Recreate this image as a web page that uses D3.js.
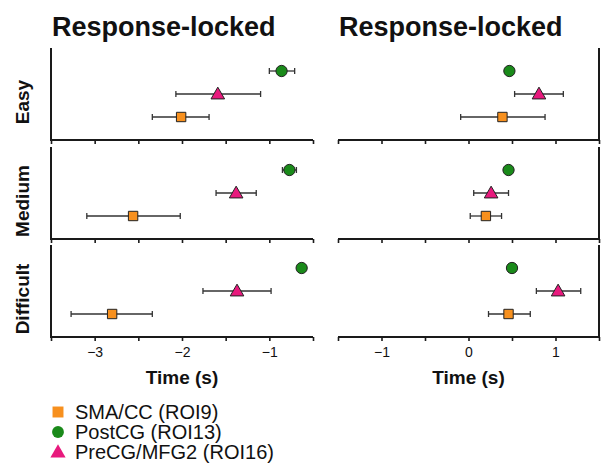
<!DOCTYPE html>
<html>
<head>
<meta charset="utf-8">
<script src="https://cdn.jsdelivr.net/npm/d3@7"></script>
<style>
  body { margin: 0; background: #fff; }
  text { font-family: "Liberation Sans", Arial, sans-serif; }
</style>
</head>
<body>
<div id="chart"></div>
<script>
// conditions (rows) and ROIs (marker series)
const conditions = ['Easy', 'Medium', 'Difficult']
const rois = ['SMA/CC (ROI9)', 'PostCG (ROI13)', 'PreCG/MFG2 (ROI16)']
const roiShape = ['square', 'circle', 'triangle']
const roiColor = ['#f7901e', '#1a8a1a', '#e8197d']
const roiRow = [3, 1, 2] // vertical slot inside each condition panel

// left panel: [mean, lo, hi] per condition, per roi
const leftVals = [
    [[-2.01, -2.34, -1.69], [-0.86, -1.0, -0.71], [-1.59, -2.07, -1.1]],
    [[-2.56, -3.09, -2.02], [-0.77, -0.85, -0.69], [-1.38, -1.61, -1.15]],
    [[-2.8, -3.27, -2.34], [-0.63, -0.63, -0.63], [-1.37, -1.76, -0.98]]
]
// right panel
const rightVals = [
    [[0.39, -0.09, 0.88], [0.47, 0.47, 0.47], [0.81, 0.53, 1.09]],
    [[0.2, 0.02, 0.38], [0.46, 0.46, 0.46], [0.26, 0.06, 0.46]],
    [[0.46, 0.23, 0.71], [0.5, 0.5, 0.5], [1.03, 0.78, 1.29]]
]
const leftTicks = [-3, -2, -1]
const rightTicks = [-1, 0, 1]

const W = 601, H = 472
const svg = d3.select('#chart').append('svg')
    .attr('width', W)
    .attr('height', H)

const rowTops = [48, 147, 245], rowH = 92
const dark = '#1a1a1a'

const panels = [
    { x0: 51, x1: 313, domain: [-3.5, -0.5], vals: leftVals, ticks: leftTicks, side: 'left' },
    { x0: 338, x1: 599, domain: [-1.5, 1.5], vals: rightVals, ticks: rightTicks, side: 'right' }
]

const y = d3.scaleLinear().domain([0, 4]).range([0, rowH])

const shapeFn = {
    square: d3.symbol(d3.symbolSquare, 88),
    circle: d3.symbol(d3.symbolCircle, 100),
    triangle: d3.symbol(d3.symbolTriangle, 80)
}

panels.forEach(p => {
    const x = d3.scaleLinear().domain(p.domain).range([p.x0, p.x1])

    svg.append('text')
        .attr('x', p.x0 + 1)
        .attr('y', 36)
        .attr('font-size', 27)
        .attr('font-weight', 'bold')
        .attr('fill', '#111')
        .text('Response-locked')

    conditions.forEach((c, ci) => {
        const g = svg.append('g').attr('transform', `translate(0,${rowTops[ci]})`)

        const allTicks = d3.range(p.domain[0], p.domain[1] + 0.01, 0.5)
        const axis = d3.axisBottom(x).tickValues(allTicks).tickSize(4)
            .tickFormat(d => (ci === 2 && p.ticks.includes(d)) ? d3.format('d')(d) : '')
        const ax = g.append('g').attr('transform', `translate(0,${rowH})`).call(axis)
        ax.select('.domain').attr('stroke', dark).attr('stroke-width', 2).attr('d', `M${p.x0},0H${p.x1}`)
        ax.selectAll('.tick line').attr('stroke', dark).attr('stroke-width', 1.6)
        ax.selectAll('.tick text').attr('font-size', 14).attr('fill', '#111').attr('dy', '0.9em')
            .attr('font-family', '"Liberation Sans", Arial, sans-serif')

        // vertical axis line
        const vx = p.side === 'left' ? p.x0 : p.x1
        g.append('line')
            .attr('x1', vx).attr('x2', vx)
            .attr('y1', 0).attr('y2', rowH + 1)
            .attr('stroke', dark).attr('stroke-width', 2)

        if (p.side === 'left') {
            g.append('text')
                .attr('transform', `translate(29,${rowH / 2 + 8}) rotate(-90)`)
                .attr('text-anchor', 'middle')
                .attr('font-size', 19)
                .attr('font-weight', 'bold')
                .attr('fill', '#111')
                .text(c)
        }

        p.vals[ci].forEach((v, ri) => {
            const yy = y(roiRow[ri])
            if (v[2] - v[1] > 0.02) {
                g.append('line')
                    .attr('x1', x(v[1])).attr('x2', x(v[2]))
                    .attr('y1', yy).attr('y2', yy)
                    .attr('stroke', '#333').attr('stroke-width', 1.3)
                ;[v[1], v[2]].forEach(e => {
                    g.append('line')
                        .attr('x1', x(e)).attr('x2', x(e))
                        .attr('y1', yy - 3).attr('y2', yy + 3)
                        .attr('stroke', '#333').attr('stroke-width', 1.3)
                })
            }
            g.append('path')
                .attr('d', shapeFn[roiShape[ri]]())
                .attr('transform', `translate(${x(v[0])},${yy + (roiShape[ri] === 'triangle' ? 1 : 0)})`)
                .attr('fill', roiColor[ri])
                .attr('stroke', '#222')
                .attr('stroke-width', 1)
        })
    })

    svg.append('text')
        .attr('x', (p.x0 + p.x1) / 2)
        .attr('y', 384)
        .attr('text-anchor', 'middle')
        .attr('font-size', 19)
        .attr('font-weight', 'bold')
        .attr('fill', '#111')
        .text('Time (s)')
})

// legend
const legendSym = {
    square: d3.symbol(d3.symbolSquare, 120),
    circle: d3.symbol(d3.symbolCircle, 110),
    triangle: d3.symbol(d3.symbolTriangle, 100)
}
rois.forEach((r, i) => {
    const ly = 412 + i * 20
    svg.append('path')
        .attr('d', legendSym[roiShape[i]]())
        .attr('transform', `translate(58,${ly + (roiShape[i] === 'triangle' ? 1 : 0)})`)
        .attr('fill', roiColor[i])
    svg.append('text')
        .attr('x', 75)
        .attr('y', ly + 7)
        .attr('font-size', 20)
        .attr('fill', '#111')
        .text(r)
})
</script>
</body>
</html>
